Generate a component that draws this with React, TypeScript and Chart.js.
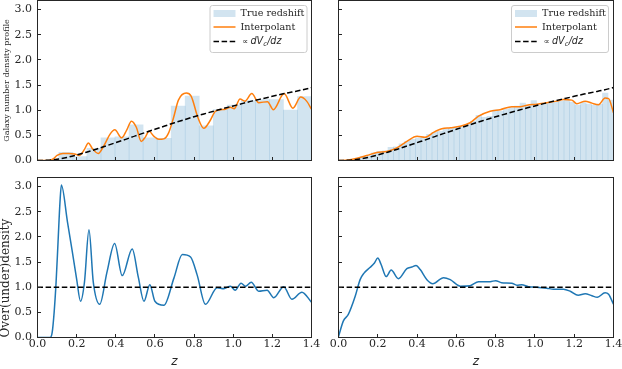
import React, { useEffect, useRef } from "react";
import { Chart, registerables } from "chart.js";

Chart.register(...registerables);

// ---------------- data ----------------
const Y_MAX = 3.18;
const X_MIN = 0;
const X_MAX = 1.4;

// top-left: histogram of true redshift (bin centres / heights)
const leftBinCenters = [0.0734, 0.1451, 0.2168, 0.2885, 0.3602, 0.432, 0.5037, 0.5754, 0.6471, 0.7188, 0.7905, 0.8622, 0.9339, 1.0057, 1.0774, 1.1491, 1.2208, 1.2925, 1.3642];
const leftBinHeights = [0.01, 0.16, 0.08, 0.24, 0.45, 0.47, 0.71, 0.45, 0.44, 1.08, 1.28, 0.69, 1.01, 1.1, 1.19, 1.21, 1.21, 1.0, 1.27];

// top-left: interpolant
const leftInterpZ = [0.0, 0.06, 0.08, 0.1, 0.13, 0.16, 0.19, 0.215, 0.24, 0.26, 0.28, 0.31, 0.34, 0.37, 0.395, 0.43, 0.455, 0.48, 0.505, 0.53, 0.55, 0.57, 0.595, 0.62, 0.645, 0.67, 0.695, 0.72, 0.76, 0.785, 0.82, 0.85, 0.88, 0.91, 0.96, 0.985, 1.005, 1.035, 1.06, 1.095, 1.13, 1.175, 1.205, 1.26, 1.305, 1.345, 1.375, 1.4];
const leftInterpV = [0.0, 0.0, 0.03, 0.1, 0.14, 0.14, 0.13, 0.1, 0.22, 0.35, 0.24, 0.14, 0.3, 0.52, 0.61, 0.45, 0.6, 0.78, 0.66, 0.38, 0.46, 0.58, 0.48, 0.42, 0.43, 0.55, 0.85, 1.2, 1.34, 1.28, 0.85, 0.64, 0.78, 0.98, 1.02, 1.06, 1.03, 1.22, 1.18, 1.33, 1.15, 1.17, 1.01, 1.33, 1.04, 1.26, 1.18, 1.02];

// top-right: histogram of true redshift
const rightBinCenters = [0.014, 0.042, 0.07, 0.098, 0.126, 0.154, 0.182, 0.21, 0.238, 0.266, 0.294, 0.322, 0.35, 0.378, 0.406, 0.434, 0.462, 0.49, 0.518, 0.546, 0.574, 0.602, 0.63, 0.658, 0.686, 0.714, 0.742, 0.77, 0.798, 0.826, 0.854, 0.882, 0.91, 0.938, 0.966, 0.994, 1.022, 1.05, 1.078, 1.106, 1.134, 1.162, 1.19, 1.218, 1.246, 1.274, 1.302, 1.33, 1.358, 1.386];
const rightBinHeights = [0.0, 0.0, 0.01, 0.04, 0.08, 0.1, 0.15, 0.18, 0.19, 0.26, 0.27, 0.33, 0.38, 0.42, 0.45, 0.46, 0.52, 0.56, 0.58, 0.63, 0.64, 0.66, 0.68, 0.72, 0.78, 0.9, 0.86, 0.88, 1.0, 0.98, 1.02, 1.05, 1.08, 1.14, 1.08, 1.19, 1.1, 1.12, 1.14, 1.16, 1.18, 1.2, 1.16, 1.1, 1.15, 1.12, 1.1, 1.12, 1.34, 1.2];

// top-right: interpolant
const rightInterpZ = [0.0, 0.05, 0.1, 0.144, 0.195, 0.246, 0.297, 0.348, 0.4, 0.44, 0.484, 0.526, 0.57, 0.62, 0.67, 0.713, 0.772, 0.823, 0.882, 0.925, 0.96, 1.01, 1.06, 1.11, 1.145, 1.188, 1.213, 1.256, 1.29, 1.324, 1.357, 1.375, 1.4];
const rightInterpV = [0.0, 0.01, 0.05, 0.1, 0.16, 0.18, 0.25, 0.38, 0.48, 0.46, 0.56, 0.63, 0.65, 0.68, 0.75, 0.88, 0.98, 1.01, 1.07, 1.07, 1.1, 1.12, 1.15, 1.18, 1.21, 1.2, 1.13, 1.18, 1.14, 1.11, 1.24, 1.23, 0.95];

// proportional to dVc/dz (both top panels)
const volumeZ = [0.0, 0.05, 0.1, 0.15, 0.2, 0.25, 0.3, 0.35, 0.4, 0.45, 0.5, 0.55, 0.6, 0.65, 0.7, 0.75, 0.8, 0.85, 0.9, 0.95, 1.0, 1.05, 1.1, 1.15, 1.2, 1.25, 1.3, 1.35, 1.4];
const volumeV = [0.0, 0.005, 0.025, 0.06, 0.11, 0.165, 0.225, 0.29, 0.355, 0.42, 0.49, 0.555, 0.62, 0.685, 0.75, 0.81, 0.87, 0.925, 0.98, 1.035, 1.085, 1.135, 1.185, 1.23, 1.275, 1.32, 1.36, 1.4, 1.45];

// bottom-left: over(under)density
const leftOverZ = [0.0, 0.065, 0.075, 0.085, 0.095, 0.105, 0.115, 0.122, 0.153, 0.178, 0.2, 0.22, 0.24, 0.263, 0.285, 0.318, 0.355, 0.394, 0.433, 0.484, 0.515, 0.544, 0.574, 0.6, 0.646, 0.697, 0.74, 0.782, 0.816, 0.858, 0.918, 0.952, 0.986, 1.01, 1.04, 1.063, 1.092, 1.13, 1.173, 1.207, 1.258, 1.3, 1.351, 1.4];
const leftOverV = [0.0, 0.0, 0.1, 0.5, 1.1, 1.9, 2.7, 3.03, 2.3, 1.7, 1.16, 0.72, 1.1, 2.14, 1.1, 0.66, 1.3, 1.87, 1.23, 1.76, 1.2, 0.72, 1.05, 0.72, 0.64, 1.18, 1.65, 1.6, 1.24, 0.66, 0.99, 0.97, 1.02, 0.94, 1.08, 1.02, 1.1, 0.92, 0.94, 0.79, 1.01, 0.76, 0.9, 0.7];

// bottom-right: over(under)density
const rightOverZ = [0.0, 0.025, 0.05, 0.085, 0.11, 0.13, 0.16, 0.183, 0.2, 0.217, 0.243, 0.268, 0.305, 0.348, 0.373, 0.395, 0.416, 0.45, 0.48, 0.535, 0.569, 0.62, 0.67, 0.713, 0.772, 0.8, 0.83, 0.882, 0.908, 0.933, 0.967, 1.01, 1.06, 1.095, 1.145, 1.18, 1.22, 1.256, 1.29, 1.318, 1.357, 1.375, 1.4];
const rightOverV = [0.02, 0.33, 0.46, 0.82, 1.15, 1.28, 1.39, 1.48, 1.58, 1.45, 1.21, 1.34, 1.17, 1.37, 1.4, 1.43, 1.35, 1.15, 1.07, 1.19, 1.15, 1.02, 1.03, 1.11, 1.11, 1.13, 1.09, 1.08, 1.04, 1.05, 1.01, 1.0, 0.98, 0.96, 0.96, 0.92, 0.84, 0.87, 0.83, 0.8, 0.89, 0.86, 0.66];

// reference level
const unityZ = [0.0, 1.4];
const unityV = [1.0, 1.0];

const legendLabels = ["True redshift", "Interpolant"];
const yTitleTop = "Galaxy number density profile";
const yTitleBottom = "Over(under)density";
const xTitle = "z";

// ---------------- styles ----------------
const BAR_FILL = "rgba(31,119,180,0.2)";
const ORANGE = "#ff7f0e";
const BLUE = "#1f77b4";
const INK = "#262626";
const SERIF = '"DejaVu Serif", serif';
const SANS = '"DejaVu Sans", sans-serif';
const TICK_LEN = 3.5;
const DASH = [5.5, 2.6];
const TICK_FONT = 11;

Chart.defaults.font.family = SERIF;
Chart.defaults.color = INK;

type Box = { x: number; y: number; w: number; h: number };
type Area = { left: number; top: number; right: number; bottom: number };
type PanelDef = {
  key: string;
  canvas: Box;
  area: Area;
  datasets: any[];
  xLabels: boolean;
  yLabels: boolean;
  yTitle?: any;
  xTitle?: any;
  legendLeft?: number;
};

const pts = (xs: number[], ys: number[]) => xs.map((x, i) => ({ x, y: ys[i] }));

const histDataset = (c: number[], h: number[]) => ({
  type: "bar",
  label: legendLabels[0],
  data: pts(c, h),
  backgroundColor: BAR_FILL,
  borderWidth: 0,
  barPercentage: 1,
  categoryPercentage: 1,
  grouped: false,
  order: 3,
});
const lineDataset = (label: string, xs: number[], ys: number[], color: string, order: number, dashed = false) => ({
  type: "line",
  label,
  data: pts(xs, ys),
  borderColor: color,
  backgroundColor: color,
  borderWidth: 1.5,
  borderDash: dashed ? DASH : [],
  pointRadius: 0,
  fill: false,
  cubicInterpolationMode: "monotone",
  order,
});

function drawLegend(ctx: CanvasRenderingContext2D, bx: number, by: number) {
  const w = 97;
  const h = 47;
  ctx.save();
  ctx.beginPath();
  const anyCtx = ctx as any;
  if (anyCtx.roundRect) anyCtx.roundRect(bx + 0.5, by + 0.5, w, h, 2.5);
  else ctx.rect(bx + 0.5, by + 0.5, w, h);
  ctx.fillStyle = "rgba(255,255,255,0.8)";
  ctx.fill();
  ctx.strokeStyle = "#cccccc";
  ctx.lineWidth = 1;
  ctx.stroke();

  const r1 = by + 8.5;
  const r2 = by + 22;
  const r3 = by + 36.5;
  const hx0 = bx + 4;
  const hx1 = bx + 26;
  ctx.fillStyle = BAR_FILL;
  ctx.fillRect(hx0, by + 5, hx1 - hx0, 7);

  ctx.lineWidth = 1.5;
  ctx.strokeStyle = ORANGE;
  ctx.beginPath();
  ctx.moveTo(hx0, r2);
  ctx.lineTo(hx1, r2);
  ctx.stroke();

  ctx.strokeStyle = "#000";
  ctx.setLineDash(DASH);
  ctx.beginPath();
  ctx.moveTo(hx0, r3);
  ctx.lineTo(hx1, r3);
  ctx.stroke();
  ctx.setLineDash([]);

  ctx.fillStyle = INK;
  ctx.textBaseline = "middle";
  ctx.textAlign = "left";
  ctx.font = `9.6px ${SERIF}`;
  ctx.fillText(legendLabels[0], bx + 31, r1);
  ctx.fillText(legendLabels[1], bx + 31, r2);

  let x = bx + 32.5;
  ctx.font = `8.5px ${SANS}`;
  ctx.fillText("\u221d", x, r3);
  x = bx + 41;
  ctx.font = `italic 9.6px ${SANS}`;
  ctx.fillText("dV", x, r3);
  x += ctx.measureText("dV").width;
  ctx.font = `italic 6.7px ${SANS}`;
  ctx.fillText("c", x, r3 + 2.6);
  x += ctx.measureText("c").width + 0.3;
  ctx.font = `italic 9.6px ${SANS}`;
  ctx.fillText("/dz", x, r3);
  ctx.restore();
}

function decorPlugin(def: PanelDef) {
  return {
    id: "decor",
    afterDatasetsDraw(chart: any) {
      const { ctx, chartArea: a, scales } = chart;
      ctx.save();
      ctx.strokeStyle = INK;
      ctx.lineWidth = 1;
      ctx.strokeRect(a.left, a.top, a.right - a.left, a.bottom - a.top);
      ctx.beginPath();
      const xs = scales.x;
      const ys = scales.y;
      xs.ticks.forEach((t: any) => {
        const px = Math.round(xs.getPixelForValue(t.value) - 0.5) + 0.5;
        ctx.moveTo(px, a.bottom);
        ctx.lineTo(px, a.bottom - TICK_LEN);
      });
      ys.ticks.forEach((t: any) => {
        const py = Math.round(ys.getPixelForValue(t.value) - 0.5) + 0.5;
        ctx.moveTo(a.left, py);
        ctx.lineTo(a.left + TICK_LEN, py);
      });
      ctx.stroke();
      ctx.restore();
    },
    afterDraw(chart: any) {
      if (def.legendLeft === undefined) return;
      drawLegend(chart.ctx, def.legendLeft - def.canvas.x, 5 - def.canvas.y);
    },
  };
}

function zeroPad(s: any) {
  s.paddingLeft = 0;
  s.paddingRight = 0;
  s.paddingTop = 0;
  s.paddingBottom = 0;
}

function buildConfig(def: PanelDef): any {
  const { canvas: c, area: a } = def;
  return {
    type: "line",
    data: { datasets: def.datasets },
    options: {
      animation: false,
      responsive: false,
      maintainAspectRatio: false,
      devicePixelRatio: 1,
      events: [],
      layout: { padding: { left: 0, top: a.top - c.y, right: c.x + c.w - a.right, bottom: 0 } },
      plugins: { legend: { display: false }, tooltip: { enabled: false }, title: { display: false } },
      scales: {
        x: {
          type: "linear",
          min: X_MIN,
          max: X_MAX,
          offset: false,
          grid: { display: false, drawTicks: false },
          border: { display: false },
          ticks: {
            display: def.xLabels,
            stepSize: 0.2,
            includeBounds: false,
            autoSkip: false,
            maxRotation: 0,
            padding: 0.5,
            color: INK,
            font: { family: SERIF, size: TICK_FONT },
            callback: (v: any) => Number(v).toFixed(1),
          },
          title: def.xTitle || { display: false },
          afterFit: (s: any) => {
            s.height = c.y + c.h - a.bottom;
            zeroPad(s);
          },
        },
        y: {
          type: "linear",
          min: 0,
          max: Y_MAX,
          grid: { display: false, drawTicks: false },
          border: { display: false },
          ticks: {
            display: def.yLabels,
            stepSize: 0.5,
            includeBounds: false,
            autoSkip: false,
            padding: 5.5,
            color: INK,
            font: { family: SERIF, size: TICK_FONT },
            callback: (v: any) => Number(v).toFixed(1),
          },
          title: def.yTitle || { display: false },
          afterFit: (s: any) => {
            s.width = a.left - c.x;
            zeroPad(s);
          },
        },
      },
    },
    plugins: [decorPlugin(def)],
  };
}

const xTitleCfg = {
  display: true,
  text: xTitle,
  color: INK,
  font: { family: SANS, style: "italic", size: 12, lineHeight: 1.2 },
  padding: { top: 0, bottom: 0 },
};

const panels: PanelDef[] = [
  {
    key: "tl",
    canvas: { x: 0, y: 0, w: 316, h: 172 },
    area: { left: 37.5, top: 0.5, right: 311.5, bottom: 160.5 },
    datasets: [
      histDataset(leftBinCenters, leftBinHeights),
      lineDataset(legendLabels[1], leftInterpZ, leftInterpV, ORANGE, 2),
      lineDataset("\u221d dVc/dz", volumeZ, volumeV, "#000", 1, true),
    ],
    xLabels: false,
    yLabels: true,
    yTitle: {
      display: true,
      text: yTitleTop,
      color: INK,
      font: { family: SERIF, size: 8, lineHeight: 1.2 },
      padding: { top: 2.2, bottom: 0 },
    },
    legendLeft: 209.5,
  },
  {
    key: "tr",
    canvas: { x: 316, y: 0, w: 306, h: 172 },
    area: { left: 338.5, top: 0.5, right: 613.5, bottom: 160.5 },
    datasets: [
      histDataset(rightBinCenters, rightBinHeights),
      lineDataset(legendLabels[1], rightInterpZ, rightInterpV, ORANGE, 2),
      lineDataset("\u221d dVc/dz", volumeZ, volumeV, "#000", 1, true),
    ],
    xLabels: false,
    yLabels: false,
    legendLeft: 511,
  },
  {
    key: "bl",
    canvas: { x: 0, y: 172, w: 326, h: 197 },
    area: { left: 37.5, top: 177.5, right: 311.5, bottom: 337.5 },
    datasets: [
      lineDataset(yTitleBottom, leftOverZ, leftOverV, BLUE, 2),
      lineDataset("unity", unityZ, unityV, "#000", 1, true),
    ],
    xLabels: true,
    yLabels: true,
    yTitle: {
      display: true,
      text: yTitleBottom,
      align: "start",
      color: INK,
      font: { family: SERIF, size: 12, lineHeight: 1 },
      padding: { top: 0, bottom: 0 },
    },
    xTitle: xTitleCfg,
  },
  {
    key: "br",
    canvas: { x: 316, y: 172, w: 306, h: 197 },
    area: { left: 338.5, top: 177.5, right: 613.5, bottom: 337.5 },
    datasets: [
      lineDataset(yTitleBottom, rightOverZ, rightOverV, BLUE, 2),
      lineDataset("unity", unityZ, unityV, "#000", 1, true),
    ],
    xLabels: true,
    yLabels: false,
    xTitle: xTitleCfg,
  },
];

function Panel({ def }: { def: PanelDef }) {
  const ref = useRef<HTMLCanvasElement>(null);
  useEffect(() => {
    const chart = new Chart(ref.current as HTMLCanvasElement, buildConfig(def));
    return () => chart.destroy();
  }, [def]);
  return (
    <canvas
      ref={ref}
      width={def.canvas.w}
      height={def.canvas.h}
      style={{
        position: "absolute",
        left: def.canvas.x,
        top: def.canvas.y,
        width: def.canvas.w,
        height: def.canvas.h,
      }}
    />
  );
}

export default function App() {
  return (
    <div
      style={{
        position: "absolute",
        left: 0,
        top: 0,
        width: 622,
        height: 369,
        background: "#ffffff",
        overflow: "hidden",
      }}
    >
      {panels.map((p) => (
        <Panel key={p.key} def={p} />
      ))}
    </div>
  );
}
